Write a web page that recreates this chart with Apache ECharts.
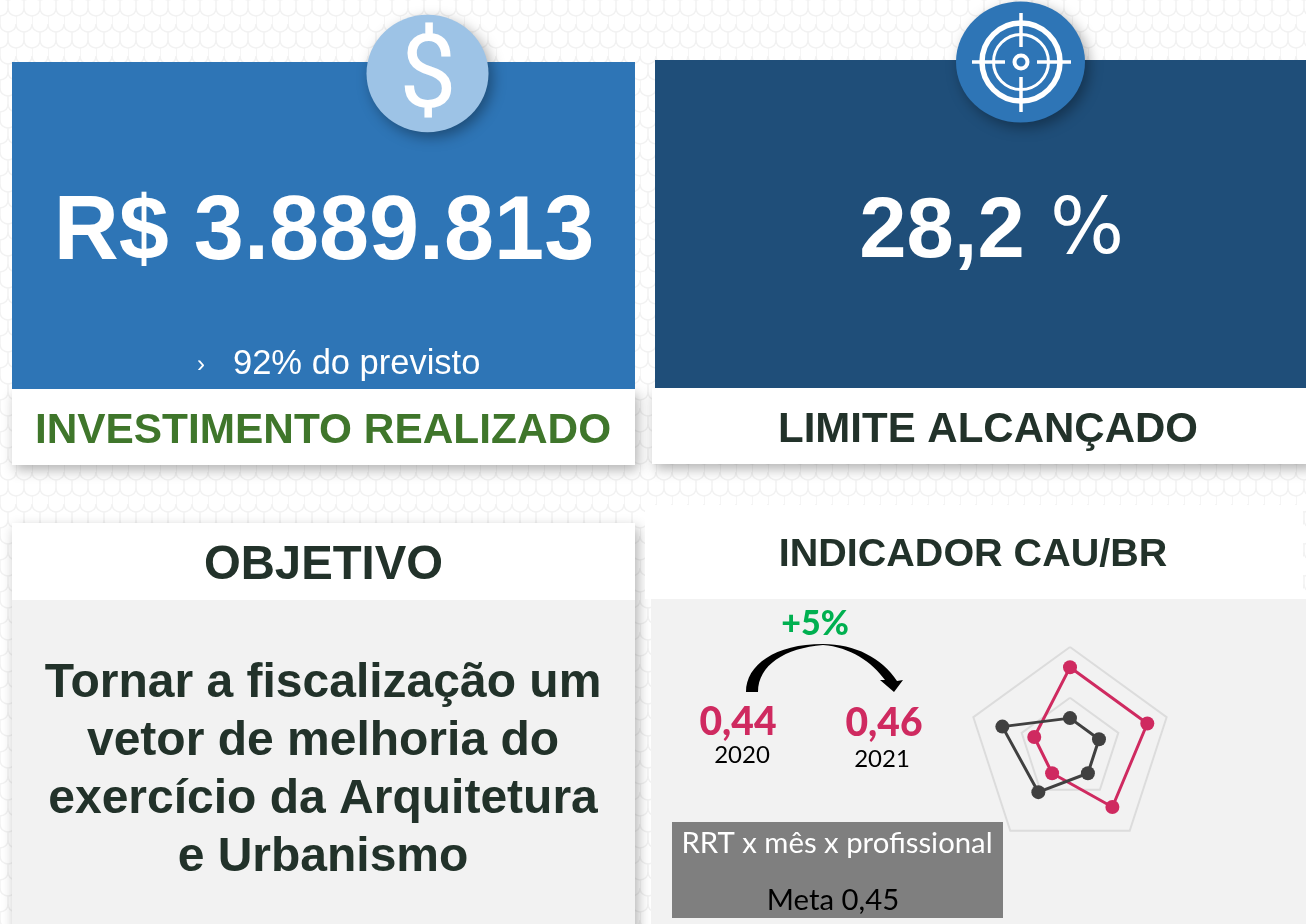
<!DOCTYPE html>
<html>
<head>
<meta charset="utf-8">
<style>
html, body { margin: 0; padding: 0; background: #fff; }
#main { width: 1306px; height: 924px; }
</style>
<script src="https://cdn.jsdelivr.net/npm/echarts@6/dist/echarts.min.js"></script>
</head>
<body>
<div id="main"></div>
<script>
// radar values (scale 0-100, two rings)
var radarAxes = ["A", "B", "C", "D", "E"];
var radarMax = 100;
var redValues = [80, 37, 30, 71, 80];
var darkValues = [30, 70, 53, 30, 30];

var investmentValue = "R$ 3.889.813";
var investmentNote = "92% do previsto";
var investmentTitle = "INVESTIMENTO REALIZADO";
var limitValue = "28,2";
var limitUnit = "%";
var limitTitle = "LIMITE ALCANÇADO";
var objectiveTitle = "OBJETIVO";
var objectiveLines = ["Tornar a fiscalização um", "vetor de melhoria do", "exercício da Arquitetura", "e Urbanismo"];
var indicatorTitle = "INDICADOR CAU/BR";
var changeLabel = "+5%";
var startValue = "0,44";
var endValue = "0,46";
var startYear = "2020";
var endYear = "2021";
var unitLabel = "RRT x mês x profissional";
var goalLabel = "Meta 0,45";

var ARIAL = '"Liberation Sans", Arial, sans-serif';
var CALIBRI = 'Lato, "Noto Sans", sans-serif';

// curved arrow from 2020 to 2021, the graphic component has no free path type
echarts.graphic.registerShape("yearArrow", echarts.graphic.extendShape({
    buildPath: function (ctx) {
        ctx.moveTo(746, 692);
        ctx.bezierCurveTo(746, 665, 775, 644, 823, 644);
        ctx.bezierCurveTo(855, 644, 882, 658, 897, 681);
        ctx.lineTo(903, 680);
        ctx.lineTo(894, 692);
        ctx.lineTo(880, 680);
        ctx.lineTo(885, 680);
        ctx.bezierCurveTo(872, 662, 850, 647, 823, 645);
        ctx.bezierCurveTo(785, 648, 758, 665, 758, 692);
        ctx.closePath();
    }
}));

// faint scale pattern behind the cards
function scaleTile() {
    var c = document.createElement("canvas");
    c.width = 16;
    c.height = 32;
    var ctx = c.getContext("2d");
    ctx.fillStyle = "#ffffff";
    ctx.fillRect(0, 0, 16, 32);
    ctx.strokeStyle = "#f2f2f2";
    ctx.lineWidth = 1.5;
    [[0, 0], [16, 0], [8, 16], [-8, 16], [0, 32], [16, 32], [8, -16]].forEach(function (o) {
        ctx.beginPath();
        ctx.moveTo(o[0] - 8, o[1]);
        ctx.lineTo(o[0] - 8, o[1] + 8);
        ctx.quadraticCurveTo(o[0] - 8, o[1] + 15, o[0], o[1] + 16);
        ctx.quadraticCurveTo(o[0] + 8, o[1] + 15, o[0] + 8, o[1] + 8);
        ctx.stroke();
    });
    return c;
}

function box(x, y, w, h, fill, shadow) {
    var el = { type: "rect", shape: { x: x, y: y, width: w, height: h }, style: { fill: fill } };
    if (shadow) {
        el.style.shadowBlur = 12;
        el.style.shadowColor = "rgba(0,0,0,0.3)";
        el.style.shadowOffsetX = 3;
        el.style.shadowOffsetY = 5;
    }
    return el;
}

function label(text, x, y, size, color, weight, family, align) {
    return {
        type: "text",
        x: x,
        y: y + size * 0.065,
        style: {
            text: text,
            fontSize: size,
            fontWeight: weight || "normal",
            fontFamily: family || ARIAL,
            fill: color,
            align: align || "center",
            verticalAlign: "middle"
        }
    };
}

function badge(cx, cy, rx, ry, fill) {
    return {
        type: "circle",
        x: cx,
        y: cy,
        scaleX: rx / ry,
        shape: { cx: 0, cy: 0, r: ry },
        style: {
            fill: fill,
            shadowBlur: 14,
            shadowColor: "rgba(0,0,0,0.35)",
            shadowOffsetX: 4,
            shadowOffsetY: 5
        }
    };
}

function ring(cx, cy, r, width) {
    return {
        type: "circle",
        shape: { cx: cx, cy: cy, r: r },
        style: { fill: "none", stroke: "#ffffff", lineWidth: width }
    };
}

function stroke(x1, y1, x2, y2, width) {
    return {
        type: "line",
        shape: { x1: x1, y1: y1, x2: x2, y2: y2 },
        style: { stroke: "#ffffff", lineWidth: width }
    };
}

var elements = [
    { type: "rect", shape: { x: 0, y: 0, width: 1306, height: 924 }, style: { fill: { image: scaleTile(), repeat: "repeat" } } },

    // top left card
    box(12, 389, 623, 76, "#ffffff", true),
    box(12, 62, 623, 327, "#2e75b6"),
    // top right card
    box(652, 388, 660, 76, "#ffffff", true),
    box(655, 60, 655, 328, "#1f4e79"),
    // bottom left card
    box(12, 523, 623, 420, "#ffffff", true),
    box(12, 600, 623, 330, "#f2f2f2"),
    // bottom right card
    box(645, 505, 658, 94, "#ffffff"),
    box(651, 599, 660, 330, "#f2f2f2"),

    // dollar badge
    badge(427.5, 73.5, 61, 58.7, "#9dc3e6"),
    label("$", 428, 75, 102, "#ffffff", "normal", "Roboto, sans-serif"),

    // target badge
    badge(1020.5, 62, 64.5, 60.5, "#2e75b6"),
    ring(1021, 62, 39, 5.5),
    ring(1021, 62, 27.5, 3),
    ring(1021, 62, 6.5, 4),
    stroke(972, 62, 1005, 62, 3.5),
    stroke(1037, 62, 1071, 62, 3.5),
    stroke(1021, 13, 1021, 47, 3.5),
    stroke(1021, 77, 1021, 112, 3.5),

    label(investmentValue, 324, 228, 90, "#ffffff", "bold"),
    label("›", 201, 364, 24, "#ffffff"),
    label(investmentNote, 233, 362, 34.5, "#ffffff", "normal", ARIAL, "left"),
    label(investmentTitle, 323, 429, 42.4, "#3f762b", "bold"),

    label(limitValue, 942, 228, 85, "#ffffff", "bold"),
    label(limitUnit, 1087, 228, 78, "#ffffff", "normal", '"DejaVu Sans", sans-serif'),
    label(limitTitle, 988, 428, 42, "#22322a", "bold"),

    label(objectiveTitle, 323.5, 563, 47.3, "#22322a", "bold"),
    label(indicatorTitle, 973, 553, 39.5, "#22322a", "bold"),

    // curved arrow between the two years
    { type: "yearArrow", shape: {}, style: { fill: "#000000" } },
    label(changeLabel, 815, 622, 34, "#00b050", 900, CALIBRI),
    label(startValue, 738, 720, 39, "#cf2a60", 900, CALIBRI),
    label(endValue, 884, 721, 39, "#cf2a60", 900, CALIBRI),
    label(startYear, 742, 754, 24, "#000000", "normal", CALIBRI),
    label(endYear, 882, 758, 24, "#000000", "normal", CALIBRI),

    box(672, 822, 331, 96, "#7f7f7f"),
    label(unitLabel, 837, 842, 29.3, "#ffffff", "normal", CALIBRI),
    label(goalLabel, 833, 899, 29.3, "#000000", "normal", CALIBRI)
];

objectiveLines.forEach(function (line, i) {
    elements.push(label(line, 323, 681 + i * 58, 48, "#22322a", "bold"));
});

var chart = echarts.init(document.getElementById("main"));
chart.setOption({
    animation: false,
    graphic: { elements: elements },
    radar: {
        center: [1070, 748.6],
        radius: 101.6,
        splitNumber: 2,
        shape: "polygon",
        axisName: { show: false },
        indicator: radarAxes.map(function (name) {
            return { name: name, max: radarMax };
        }),
        axisLine: { show: false },
        axisTick: { show: false },
        splitArea: { show: false },
        splitLine: { lineStyle: { color: "#dcdcdc", width: 2 } }
    },
    series: [
        {
            type: "radar",
            z: 3,
            symbol: "circle",
            symbolSize: 14,
            itemStyle: { color: "#cf2a60" },
            lineStyle: { color: "#cf2a60", width: 3 },
            data: [{ value: redValues }]
        },
        {
            type: "radar",
            z: 4,
            symbol: "circle",
            symbolSize: 14,
            itemStyle: { color: "#404040" },
            lineStyle: { color: "#404040", width: 3 },
            data: [{ value: darkValues }]
        }
    ]
});
</script>
</body>
</html>
